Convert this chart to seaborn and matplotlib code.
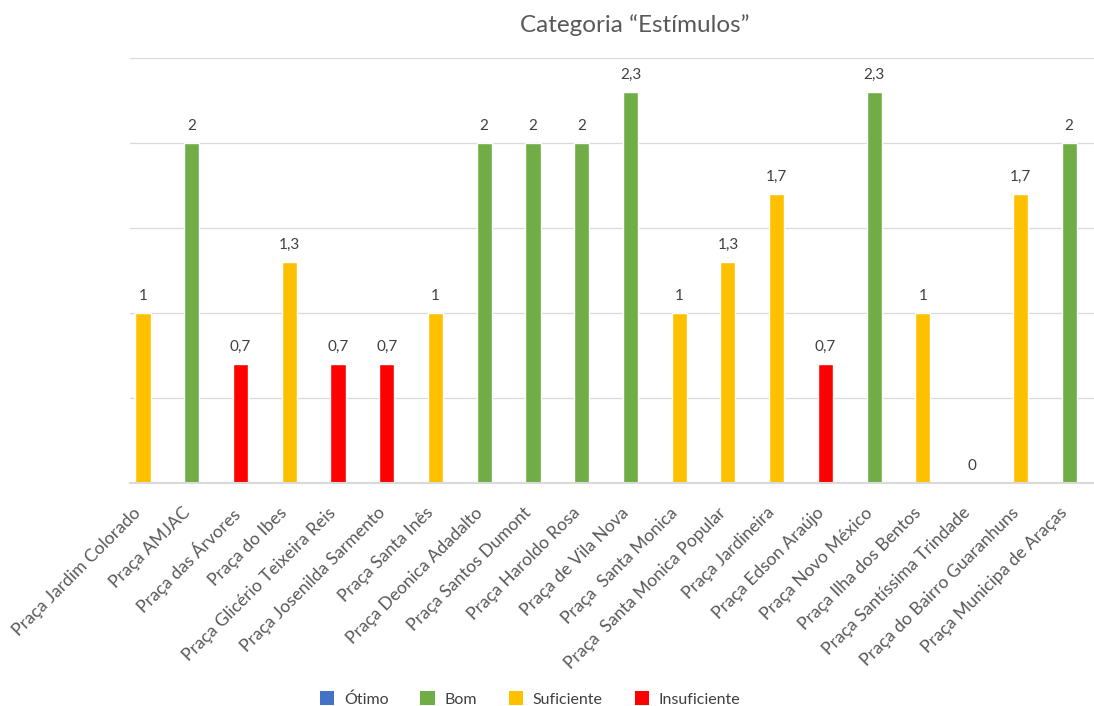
import matplotlib
matplotlib.use("Agg")
import matplotlib.pyplot as plt
import matplotlib.transforms as mtrans
from matplotlib.patches import Patch
import seaborn as sns
import pandas as pd

pracas = [
    "Praça Jardim Colorado", "Praça AMJAC", "Praça das Árvores", "Praça do Ibes",
    "Praça Glicério Teixeira Reis", "Praça Josenilda Sarmento", "Praça Santa Inês",
    "Praça Deonica Adadalto", "Praça Santos Dumont", "Praça Haroldo Rosa",
    "Praça de Vila Nova", "Praça  Santa Monica", "Praça  Santa Monica Popular",
    "Praça Jardineira", "Praça Edson Araújo", "Praça Novo México",
    "Praça Ilha dos Bentos", "Praça Santíssima Trindade", "Praça do Bairro Guaranhuns",
    "Praça Municipa de Araças",
]
valores = [1, 2, 0.7, 1.3, 0.7, 0.7, 1, 2, 2, 2, 2.3, 1, 1.3, 1.7, 0.7, 2.3, 1, 0, 1.7, 2]
classes = ["Suficiente", "Bom", "Insuficiente", "Suficiente", "Insuficiente", "Insuficiente",
           "Suficiente", "Bom", "Bom", "Bom", "Bom", "Suficiente", "Suficiente",
           "Suficiente", "Insuficiente", "Bom", "Suficiente", "Insuficiente",
           "Suficiente", "Bom"]
niveis = ["Ótimo", "Bom", "Suficiente", "Insuficiente"]
cores = ["#4472C4", "#70AD47", "#FFC000", "#FF0000"]
titulo = "Categoria \u201cEstímulos\u201d"

sns.set_theme(style="white")
plt.rcParams["font.family"] = ["Lato", "DejaVu Sans"]
txt = "#595959"

df = pd.DataFrame({"praca": pracas, "valor": valores, "classe": classes})

fig = plt.figure(figsize=(10.94, 7.06), dpi=100)
ax = fig.add_axes([130 / 1094, (706 - 483) / 706, (1094 - 130) / 1094, (483 - 58) / 706])

sns.barplot(data=df, x="praca", y="valor", hue="classe", hue_order=niveis,
            palette=dict(zip(niveis, cores)), dodge=False, width=0.31,
            order=pracas, ax=ax, legend=False, saturation=1)

ax.set_ylim(0, 2.5)
ax.set_xlim(-0.267, 19.51)
ax.set_yticks([0, 0.5, 1, 1.5, 2, 2.5])
ax.set_yticklabels([])
ax.yaxis.grid(True, color="#D9D9D9", linewidth=0.9)
ax.set_axisbelow(True)
for s in ["top", "right", "left"]:
    ax.spines[s].set_visible(False)
ax.spines["bottom"].set_color("#D9D9D9")
ax.spines["bottom"].set_linewidth(1.5)
ax.set_xlabel("")
ax.set_ylabel("")
ax.tick_params(axis="y", length=0)
ax.tick_params(axis="x", length=0, pad=14)
ax.set_xticks(range(len(pracas)))
ax.set_xticklabels(pracas, rotation=45, ha="right", rotation_mode="anchor",
                   fontsize=12.6, color=txt)
shift = mtrans.ScaledTranslation(-10 / 100, -2 / 100, fig.dpi_scale_trans)
for lab in ax.get_xticklabels():
    lab.set_transform(lab.get_transform() + shift)

def fmt(v):
    if float(v).is_integer():
        return str(int(v))
    return f"{v:.1f}".replace(".", ",")

for i, v in enumerate(valores):
    ax.annotate(fmt(v), (i, v), xytext=(0, 7), textcoords="offset points",
                ha="center", va="bottom", fontsize=11, color="#404040")

fig.text(635 / 1094, 1 - 25 / 706, titulo, ha="center", va="center",
         fontsize=17.5, color=txt)

handles = [Patch(facecolor=c, edgecolor="none") for c in cores]
fig.legend(handles, niveis, loc="center", bbox_to_anchor=(530 / 1094, 1 - 699 / 706),
           ncol=4, frameon=False, fontsize=11.5, handlelength=0.9, handleheight=0.9,
           columnspacing=2.0, handletextpad=0.6, labelcolor="#404040")

fig.savefig("out.png", dpi=100)
